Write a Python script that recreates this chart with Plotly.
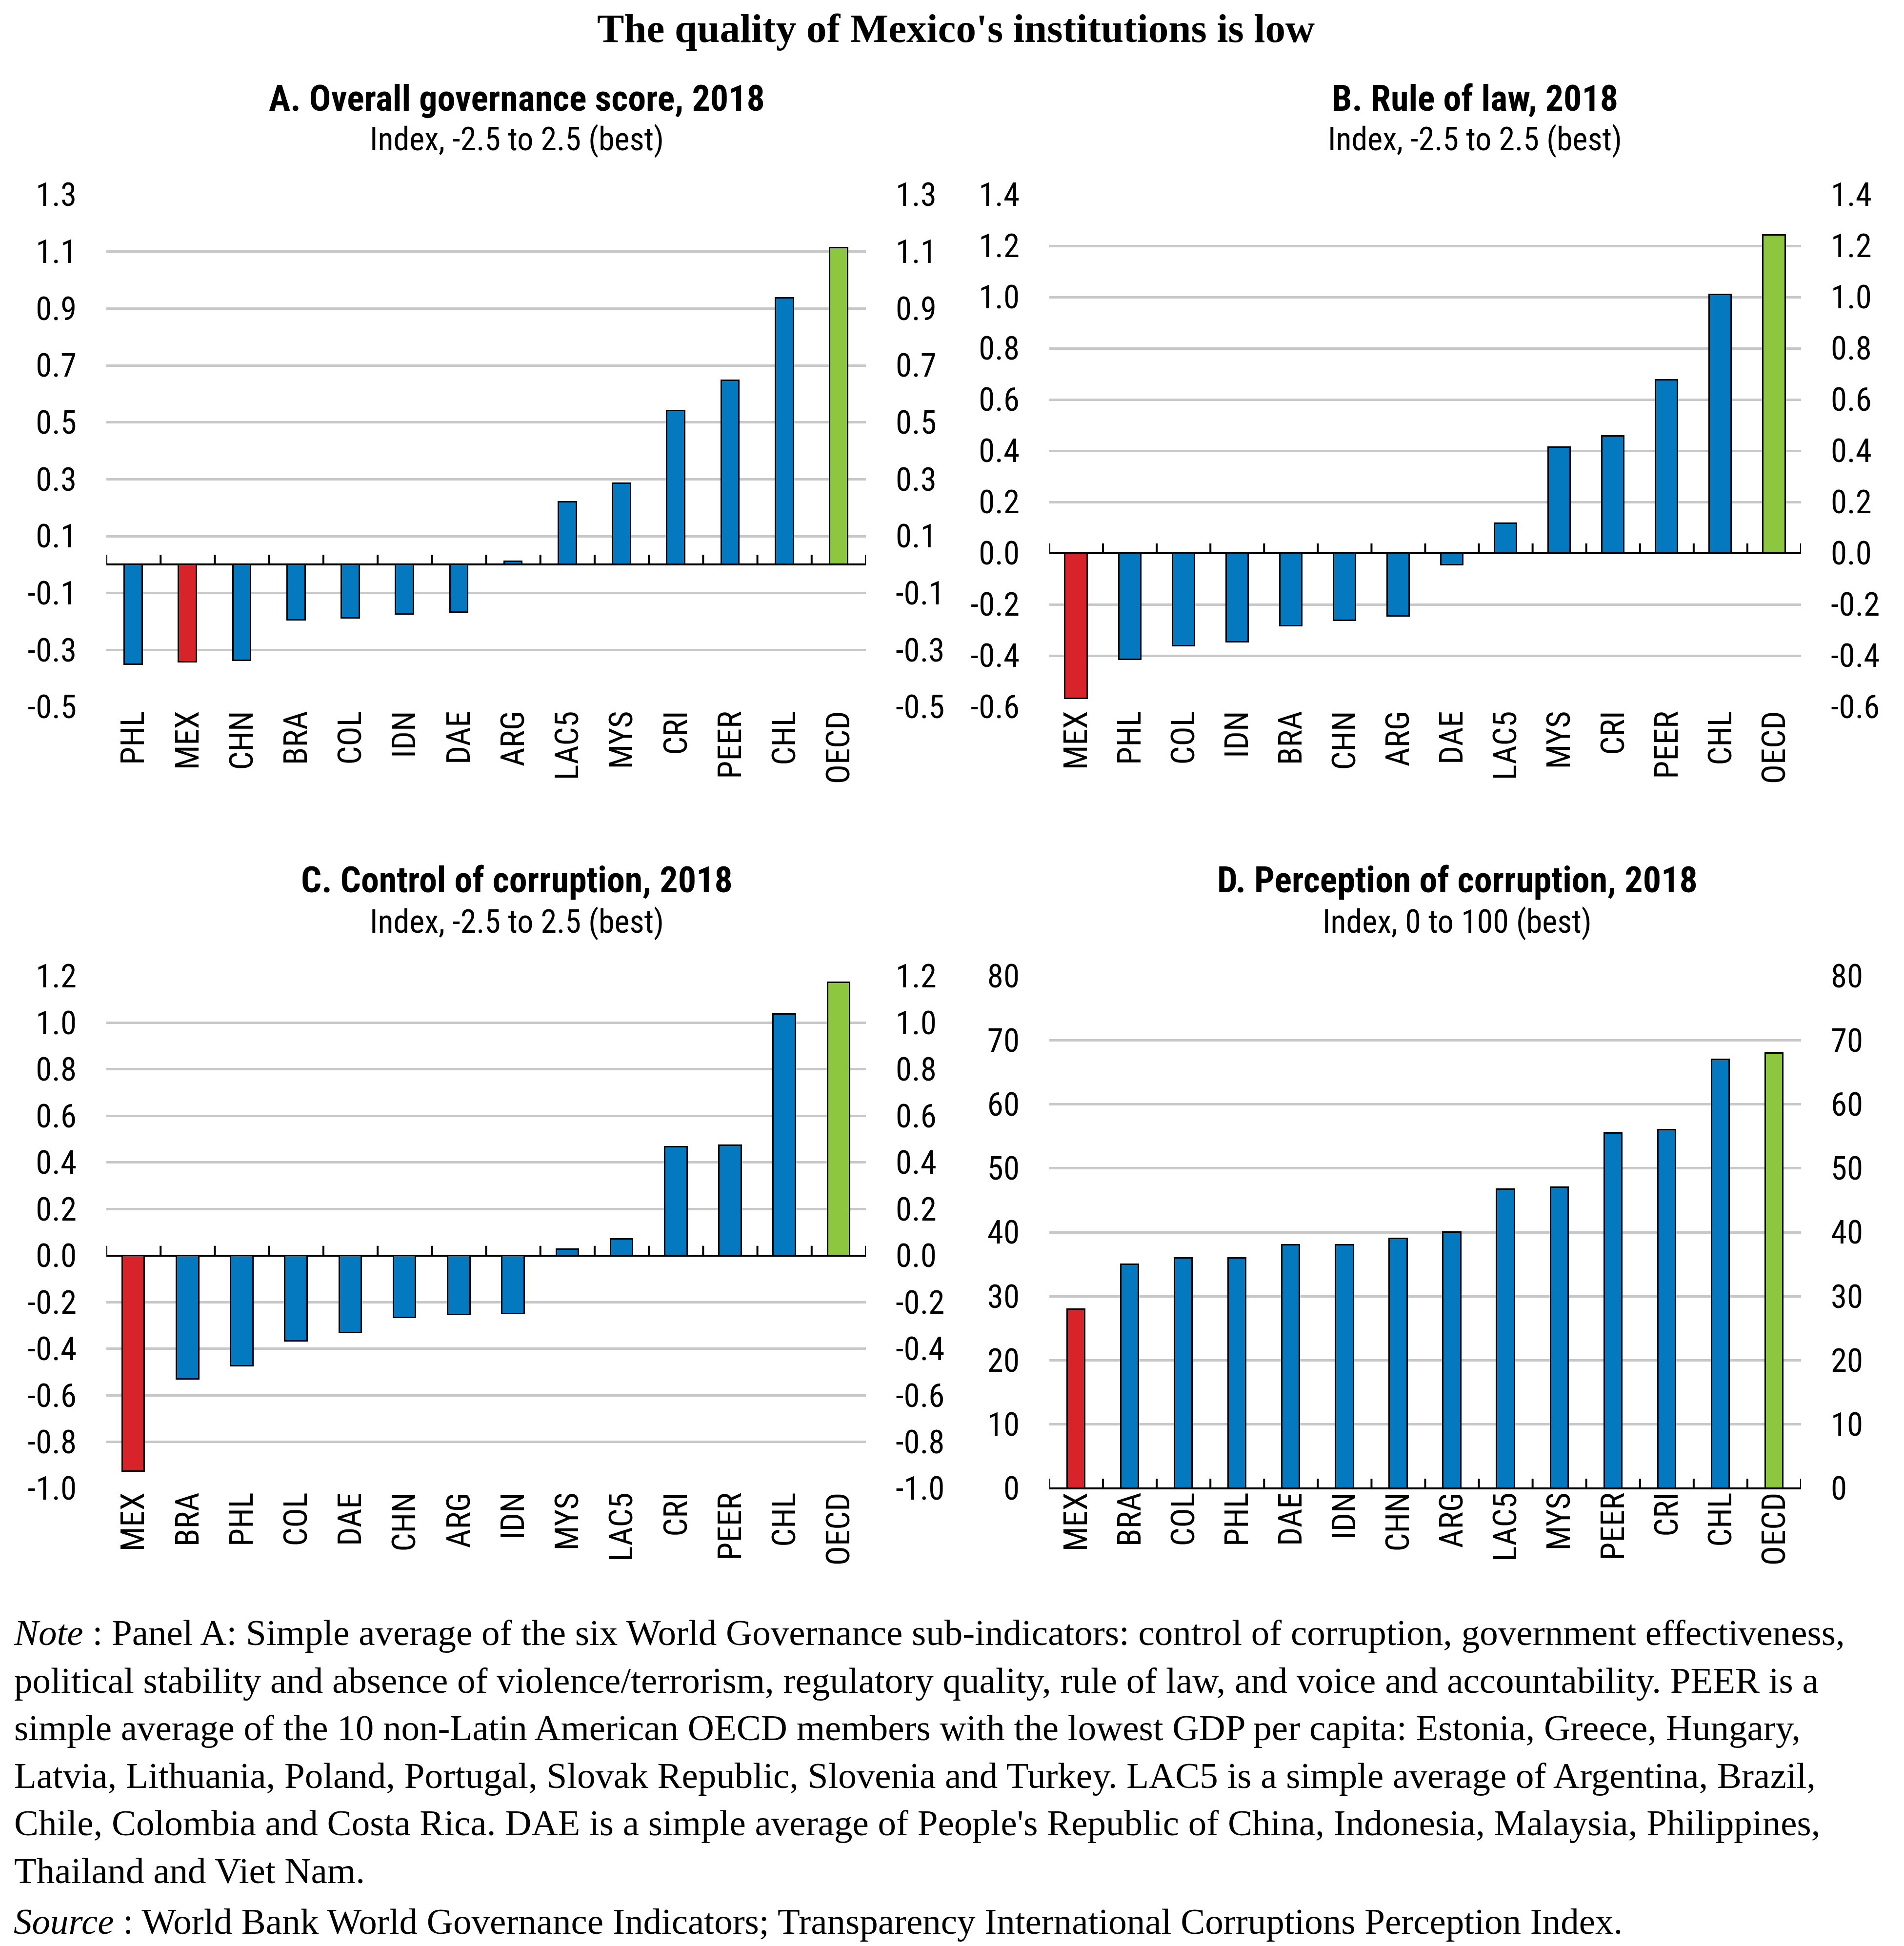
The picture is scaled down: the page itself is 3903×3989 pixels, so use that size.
import plotly.graph_objects as go

# ---------------- data ----------------
cats_a = ["PHL", "MEX", "CHN", "BRA", "COL", "IDN", "DAE", "ARG", "LAC5", "MYS", "CRI", "PEER", "CHL", "OECD"]
vals_a = [-0.350, -0.342, -0.337, -0.195, -0.188, -0.175, -0.167, 0.011, 0.220, 0.285, 0.540, 0.647, 0.936, 1.113]

cats_b = ["MEX", "PHL", "COL", "IDN", "BRA", "CHN", "ARG", "DAE", "LAC5", "MYS", "CRI", "PEER", "CHL", "OECD"]
vals_b = [-0.568, -0.415, -0.362, -0.347, -0.283, -0.262, -0.246, -0.045, 0.116, 0.413, 0.457, 0.676, 1.010, 1.242]

cats_c = ["MEX", "BRA", "PHL", "COL", "DAE", "CHN", "ARG", "IDN", "MYS", "LAC5", "CRI", "PEER", "CHL", "OECD"]
vals_c = [-0.926, -0.530, -0.475, -0.368, -0.331, -0.267, -0.254, -0.250, 0.026, 0.071, 0.466, 0.473, 1.037, 1.172]

cats_d = ["MEX", "BRA", "COL", "PHL", "DAE", "IDN", "CHN", "ARG", "LAC5", "MYS", "PEER", "CRI", "CHL", "OECD"]
vals_d = [28, 35, 36, 36, 38, 38, 39, 40, 46.7, 47, 55.5, 56, 67, 68]

ticks_a = [-0.5, -0.3, -0.1, 0.1, 0.3, 0.5, 0.7, 0.9, 1.1, 1.3]
ticks_b = [-0.6, -0.4, -0.2, 0.0, 0.2, 0.4, 0.6, 0.8, 1.0, 1.2, 1.4]
ticks_c = [-1.0, -0.8, -0.6, -0.4, -0.2, 0.0, 0.2, 0.4, 0.6, 0.8, 1.0, 1.2]
ticks_d = [0, 10, 20, 30, 40, 50, 60, 70, 80]
labels_a = [f"{v:.1f}" for v in ticks_a]
labels_b = [f"{v:.1f}" for v in ticks_b]
labels_c = [f"{v:.1f}" for v in ticks_c]
labels_d = [f"{v:d}" for v in ticks_d]

titles = ["A. Overall governance score, 2018", "B. Rule of law, 2018",
          "C. Control of corruption, 2018", "D. Perception of corruption, 2018"]
subtitles = ["Index, -2.5 to 2.5 (best)", "Index, -2.5 to 2.5 (best)",
             "Index, -2.5 to 2.5 (best)", "Index, 0 to 100 (best)"]
main_title = "The quality of Mexico's institutions is low"
note_lines = [
    "<i>Note</i> : Panel A: Simple average of the six World Governance sub-indicators: control of corruption, government effectiveness,",
    "political stability and absence of violence/terrorism, regulatory quality, rule of law, and voice and accountability. PEER is a",
    "simple average of the 10 non-Latin American OECD members with the lowest GDP per capita: Estonia, Greece, Hungary,",
    "Latvia, Lithuania, Poland, Portugal, Slovak Republic, Slovenia and Turkey. LAC5 is a simple average of Argentina, Brazil,",
    "Chile, Colombia and Costa Rica. DAE is a simple average of People's Republic of China, Indonesia, Malaysia, Philippines,",
    "Thailand and Viet Nam.",
]
source_line = "<i>Source</i> : World Bank World Governance Indicators; Transparency International Corruptions Perception Index."

# ---------------- style ----------------
W, H = 3903, 3989
BLUE, RED, GREEN = "#0579BF", "#D9232B", "#8DC63F"
NARROW = "Roboto Condensed, DejaVu Sans Condensed, Liberation Sans Narrow, Arial Narrow, Liberation Sans, sans-serif"
SERIF = "Liberation Serif, Times New Roman, serif"
GRID = "#C8C8C8"

def color_for(c):
    return RED if c == "MEX" else (GREEN if c == "OECD" else BLUE)

def px_x(p):
    return p / W

def px_y(p):
    return 1 - p / H

panels = [
    dict(cats=cats_a, vals=vals_a, ticks=ticks_a, labels=labels_a, rng=[-0.5, 1.3], bw=0.33,
         xd=[210, 1767], yd=[391, 1441], tx=1051, ty=193, sy=278),
    dict(cats=cats_b, vals=vals_b, ticks=ticks_b, labels=labels_b, rng=[-0.6, 1.4], bw=0.41,
         xd=[2143, 3684], yd=[391, 1441], tx=3015, ty=193, sy=278),
    dict(cats=cats_c, vals=vals_c, ticks=ticks_c, labels=labels_c, rng=[-1.0, 1.2], bw=0.41,
         xd=[210, 1767], yd=[1993, 3043], tx=1051, ty=1796, sy=1882),
    dict(cats=cats_d, vals=vals_d, ticks=ticks_d, labels=labels_d, rng=[0, 80], bw=0.33,
         xd=[2143, 3684], yd=[1993, 3043], tx=2979, ty=1796, sy=1882),
]

fig = go.Figure()
layout = dict(
    template="none",
    width=W, height=H, autosize=False,
    margin=dict(l=0, r=0, t=0, b=0, pad=0),
    paper_bgcolor="white", plot_bgcolor="white",
    showlegend=False, bargap=0,
)
annotations = []
shapes = []

for i, p in enumerate(panels):
    k = i + 1
    xa = "x" if k == 1 else f"x{k}"
    ya = "y" if k == 1 else f"y{k}"
    yr = f"y{k + 4}"
    xdom = [px_x(p["xd"][0]), px_x(p["xd"][1])]
    ydom = [px_y(p["yd"][1]), px_y(p["yd"][0])]
    n = len(p["cats"])

    fig.add_trace(go.Bar(
        x=p["cats"], y=p["vals"], xaxis=xa, yaxis=ya, width=p["bw"],
        marker=dict(color=[color_for(c) for c in p["cats"]],
                    line=dict(color="black", width=3)),
        hoverinfo="x+y",
    ))
    # invisible companion so that the right-hand mirror axis is drawn
    fig.add_trace(go.Scatter(
        x=p["cats"], y=p["vals"], xaxis=xa, yaxis=yr, mode="markers",
        marker=dict(opacity=0), hoverinfo="skip",
    ))

    layout[f"xaxis{'' if k == 1 else k}"] = dict(
        domain=xdom, anchor=ya, type="category",
        categoryorder="array", categoryarray=p["cats"],
        range=[-0.5, n - 0.5], automargin=False,
        showgrid=False, showline=False, zeroline=False, ticks="",
        tickangle=-90, ticklabelstandoff=-6,
        tickfont=dict(family=NARROW, size=67, color="black"),
    )
    common_y = dict(
        domain=ydom, range=p["rng"], tickmode="array", automargin=False,
        tickvals=p["ticks"], ticktext=p["labels"],
        showline=False, ticks="", ticklabelstandoff=60,
        tickfont=dict(family=NARROW, size=67, color="black"),
    )
    layout[f"yaxis{'' if k == 1 else k}"] = dict(
        common_y, anchor=xa, showgrid=True, gridcolor=GRID, gridwidth=5,
        zeroline=True, zerolinecolor="black", zerolinewidth=4, side="left",
    )
    layout[f"yaxis{k + 4}"] = dict(
        common_y, anchor=xa, overlaying=ya, side="right",
        showgrid=False, zeroline=False,
    )

    # tick marks at category boundaries on the zero line
    for b in range(n + 1):
        shapes.append(dict(
            type="line", xref=xa, yref=ya, ysizemode="pixel", yanchor=0,
            x0=b - 0.5, x1=b - 0.5, y0=0, y1=20,
            line=dict(color="black", width=4), layer="above",
        ))

    annotations.append(dict(
        text=f"<b>{titles[i]}</b>", x=px_x(p["tx"]), y=px_y(p["ty"]),
        xref="paper", yref="paper", xanchor="center", yanchor="middle",
        showarrow=False, font=dict(family=NARROW, size=74, color="black"),
    ))
    annotations.append(dict(
        text=subtitles[i], x=px_x(p["tx"]), y=px_y(p["sy"]),
        xref="paper", yref="paper", xanchor="center", yanchor="middle",
        showarrow=False, font=dict(family=NARROW, size=66, color="black"),
    ))

annotations.append(dict(
    text=f"<b>{main_title}</b>", x=0.5, y=px_y(50), xref="paper", yref="paper",
    xanchor="center", yanchor="middle", showarrow=False,
    font=dict(family=SERIF, size=83, color="black"),
))
annotations.append(dict(
    text="<br>".join(note_lines), x=px_x(18), y=px_y(3295), xref="paper", yref="paper",
    xanchor="left", yanchor="top", align="left", showarrow=False,
    font=dict(family=SERIF, size=75, color="black"),
))
annotations.append(dict(
    text=source_line, x=px_x(18), y=px_y(3930), xref="paper", yref="paper",
    xanchor="left", yanchor="middle", align="left", showarrow=False,
    font=dict(family=SERIF, size=75, color="black"),
))

layout["annotations"] = annotations
layout["shapes"] = shapes
fig.update_layout(**layout)
fig.write_html("out.html")
